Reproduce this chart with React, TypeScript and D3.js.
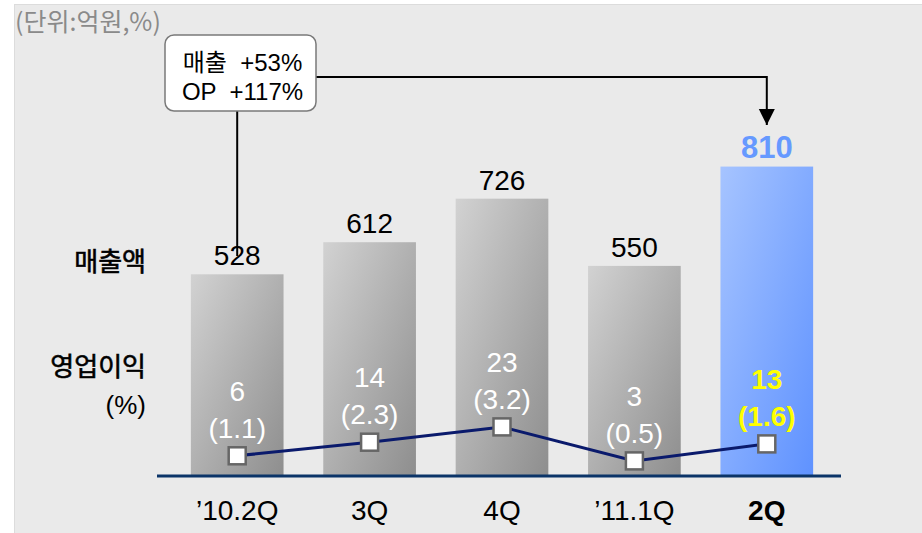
import React from "react";
import * as d3 from "d3";

const categories = ["\u201910.2Q", "3Q", "4Q", "\u201911.1Q", "2Q"];
const revenue = [528, 612, 726, 550, 810];
const opProfit = [6, 14, 23, 3, 13];
const opMargin = ["1.1", "2.3", "3.2", "0.5", "1.6"];
const calloutLines = ["매출  +53%", "OP  +117%"];
const unitLabel = "(단위:억원,%)";

const W = 922;
const H = 533;
const FONT = "'Liberation Sans', Arial, sans-serif";
const KFONT = "'Noto Sans CJK KR', 'Liberation Sans', sans-serif";
const MIXFONT = "'Liberation Sans', 'Noto Sans CJK KR', sans-serif";

export default function App() {
  const x = d3.scaleBand<string>().domain(categories).range([171, 833]).paddingInner(0.3).paddingOuter(0.15);
  const y = d3.scaleLinear().domain([0, 1000]).range([476, 94]);
  const yOp = d3.scaleLinear().domain([0, 40]).range([466, 398]);
  const bw = x.bandwidth();
  const cx = (c: string) => (x(c) as number) + bw / 2;
  const last = categories.length - 1;

  const linePts: [number, number][] = categories.map((c, i) => [cx(c), yOp(opProfit[i])]);
  const line = d3.line()(linePts) as string;

  const boxX = 165, boxY = 35, boxW = 151, boxH = 76;
  const arrowX = cx(categories[last]);
  const firstX = cx(categories[0]);
  const connY = 77;

  return (
    <svg width={W} height={H} style={{ position: "absolute", left: 0, top: 0, background: "#fff" }}>
      <defs>
        <linearGradient id="gGray" x1="0" y1="0" x2="1" y2="1">
          <stop offset="0" stopColor="#d2d2d2" />
          <stop offset="1" stopColor="#8e8e8e" />
        </linearGradient>
        <linearGradient id="gBlue" x1="0" y1="0" x2="1" y2="1">
          <stop offset="0" stopColor="#a6c4ff" />
          <stop offset="1" stopColor="#5f92ff" />
        </linearGradient>
        <marker id="arr" viewBox="0 0 10 10" refX="10" refY="5" markerWidth="16" markerHeight="17" orient="auto" markerUnits="userSpaceOnUse">
          <path d="M0,0 L10,5 L0,10 Z" fill="#000" />
        </marker>
      </defs>
      <rect x={14.5} y={4.5} width={W - 14} height={H - 4} fill="#eaeaea" stroke="#dcdcdc" />
      <text x={15} y={31} fontFamily={KFONT} fontSize={25} fill="#8a8a8a">{unitLabel}</text>

      {categories.map((c, i) => (
        <rect key={c} x={x(c)} y={y(revenue[i])} width={bw} height={y(0) - y(revenue[i])}
          fill={i === last ? "url(#gBlue)" : "url(#gGray)"} />
      ))}

      <line x1={157} x2={841} y1={476} y2={476} stroke="#0b3468" strokeWidth={3} />

      {categories.map((c, i) => (
        <text key={c} x={cx(c)} y={y(revenue[i]) - 9} textAnchor="middle" fontFamily={FONT}
          fontSize={i === last ? 31 : 28} fontWeight={i === last ? "bold" : "normal"}
          fill={i === last ? "#6699ff" : "#000"}>{revenue[i]}</text>
      ))}

      <path d={line} fill="none" stroke="#0a1a6c" strokeWidth={3} />
      {linePts.map(([px, py], i) => (
        <rect key={i} x={px - 8.5} y={py - 8.5} width={17} height={17} fill="#fff" stroke="#666" strokeWidth={2.5} />
      ))}

      {categories.map((c, i) => {
        const py = yOp(opProfit[i]);
        const isLast = i === last;
        return (
          <g key={c} fontFamily={FONT} fontSize={28} textAnchor="middle"
            fill={isLast ? "#ffff00" : "#fff"} fontWeight={isLast ? "bold" : "normal"}>
            <text x={cx(c)} y={py - 67 + 12}>{opProfit[i]}</text>
            <text x={cx(c)} y={py - 30 + 12}>({opMargin[i]})</text>
          </g>
        );
      })}

      {categories.map((c, i) => (
        <text key={c} x={cx(c)} y={520} textAnchor="middle" fontFamily={FONT} fontSize={28}
          fontWeight={i === last ? "bold" : "normal"} fill="#000">{c}</text>
      ))}

      <g fontFamily={KFONT} fontSize={26} fill="#000" stroke="#000" strokeWidth={0.6} textAnchor="end">
        <text x={146} y={271}>매출액</text>
        <text x={146} y={376}>영업이익</text>
      </g>
      <text x={146} y={414} fontFamily={FONT} fontSize={26} fill="#000" textAnchor="end">(%)</text>

      <line x1={firstX} x2={firstX} y1={boxY + boxH} y2={256} stroke="#000" strokeWidth={2} />
      <path d={`M${boxX + boxW},${connY} H${arrowX} V${125}`} fill="none" stroke="#000" strokeWidth={2} markerEnd="url(#arr)" />
      <rect x={boxX} y={boxY} width={boxW} height={boxH} rx={9} fill="#fff" stroke="#7a7a7a" strokeWidth={1.5} />
      <g fontFamily={MIXFONT} fontSize={24} fill="#000" textAnchor="middle">
        <text x={boxX + boxW / 2 + 2} y={71} xmlSpace="preserve">{calloutLines[0]}</text>
        <text x={boxX + boxW / 2 + 2} y={100} xmlSpace="preserve">{calloutLines[1]}</text>
      </g>
    </svg>
  );
}
